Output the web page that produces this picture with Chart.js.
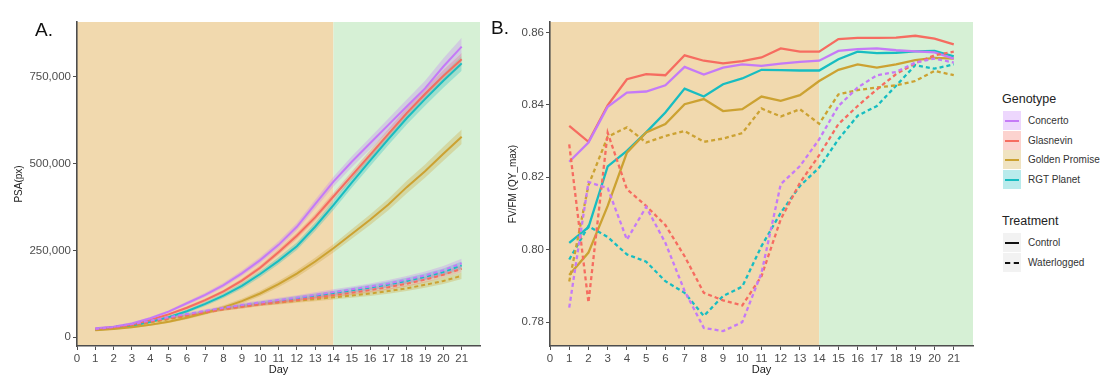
<!DOCTYPE html>
<html><head><meta charset="utf-8">
<script src="https://cdn.jsdelivr.net/npm/chart.js@4/dist/chart.umd.min.js"></script>
<style>
body{margin:0;width:1104px;height:384px;background:#fff;position:relative;overflow:hidden;font-family:"Liberation Sans",Arial,sans-serif;}
#ca{position:absolute;left:0;top:0;}
#cb{position:absolute;left:490px;top:0;}
.panel{position:absolute;font-size:19px;color:#111;line-height:1;}
.lg{position:absolute;color:#333;font-size:10px;line-height:1;white-space:nowrap;}
.lt{position:absolute;color:#222;font-size:12.5px;line-height:1;}
.key{position:absolute;width:18px;height:19px;}
.key i{position:absolute;left:2px;right:2px;top:9px;height:0;border-top:2px solid;}
</style>
</head><body>
<canvas id="ca" width="490" height="384"></canvas>
<canvas id="cb" width="500" height="384"></canvas>
<div class="panel" style="left:35px;top:20px">A.</div>
<div class="panel" style="left:491px;top:18px">B.</div>
<div id="legend"></div>
<script>
// ---------- data ----------
const days = [1,2,3,4,5,6,7,8,9,10,11,12,13,14,15,16,17,18,19,20,21];
const xTickLabels = [0,1,2,3,4,5,6,7,8,9,10,11,12,13,14,15,16,17,18,19,20,21];
const psaTicks = [0,250000,500000,750000];
const fvTicks = [0.78,0.80,0.82,0.84,0.86];
const genotypes = ["Concerto","Glasnevin","Golden Promise","RGT Planet"];
const treatments = ["Control","Waterlogged"];

// Panel A: PSA (px)
const psaConcertoCtrl = [25900,30700,40000,55000,74000,98000,122000,150000,184000,222000,266000,318000,383000,448000,505000,558000,611000,664000,716000,779000,836000];
const psaGlasnevinCtrl = [25000,29000,37000,50000,66000,85000,107000,132000,163000,200000,245000,292000,345000,405000,465000,525000,585000,645000,700000,752000,800000];
const psaGoldenCtrl = [20000,24000,29000,36000,45000,56000,70000,86000,104000,126000,153000,183000,218000,256000,297000,338000,382000,432000,478000,528000,577000];
const psaRGTCtrl = [22000,26000,33000,44000,58000,75000,96000,120000,148000,182000,220000,262000,318000,380000,445000,508000,570000,630000,685000,738000,788000];
const psaConcertoWL = [24000,30000,38000,48000,58000,67000,76000,85000,93000,100000,107000,114000,122000,130000,138000,146000,155000,166000,178000,193000,213000];
const psaGlasnevinWL = [23000,28000,36000,45000,54000,63000,72000,81000,88000,95000,101000,107000,114000,121000,128000,136000,144000,154000,166000,180000,197000];
const psaGoldenWL = [22000,27000,34000,43000,52000,61000,71000,81000,88000,95000,100000,105000,110000,115000,120000,126000,133000,141000,151000,162000,177000];
const psaRGTWL = [23000,29000,37000,47000,56000,65000,74000,83000,91000,98000,105000,112000,119000,127000,135000,143000,152000,162000,174000,188000,207000];
// ribbon half-widths (standard error)
const seConcertoCtrl = [2500,2500,3000,3500,4000,5000,6000,7000,8000,9000,10000,11000,12500,14000,15500,17000,18500,20000,22000,24000,26000];
const seGlasnevinCtrl = [2000,2000,2500,3000,3500,4000,4500,5000,6000,7000,8000,9000,10000,11000,12000,13000,14000,15000,16000,17000,18000];
const seGoldenCtrl = [2000,2000,2500,3000,3500,4000,5000,6000,7000,8000,9000,10000,11000,12000,13500,15000,16500,18000,19000,20000,21000];
const seRGTCtrl = [2000,2500,3000,3500,4000,5000,6000,7000,8000,9000,10000,11000,12500,14000,15000,16000,17000,18000,19000,20000,21000];
const seConcertoWL = [2000,2000,2500,3000,3500,4000,4500,5000,5500,6000,6500,7000,7500,8000,8500,9000,9500,10000,11000,12000,13000];
const seGlasnevinWL = [1500,1500,2000,2500,3000,3500,4000,4500,5000,5000,5500,5500,6000,6000,6500,7000,7500,8000,8500,9000,9500];
const seGoldenWL = [1500,1500,2000,2500,3000,3500,4000,4500,5000,5000,5500,5500,6000,6000,6500,7000,7500,8000,8500,9000,9500];
const seRGTWL = [1500,1500,2000,2500,3000,3500,4000,4500,5000,5500,6000,6500,7000,7000,7500,8000,8500,9000,9500,10000,11000];

// Panel B: Fv/Fm (QY_max)
const fvConcertoCtrl = [0.8243,0.8296,0.8395,0.8434,0.8437,0.8454,0.8505,0.8484,0.8503,0.8512,0.8508,0.8514,0.8519,0.8522,0.8549,0.8554,0.8556,0.8551,0.8548,0.8545,0.8528];
const fvGlasnevinCtrl = [0.8342,0.8298,0.8399,0.8471,0.8485,0.8482,0.8537,0.8522,0.8515,0.8521,0.8531,0.8556,0.8547,0.8547,0.8582,0.8585,0.8585,0.8586,0.8591,0.8583,0.8567];
const fvGoldenCtrl = [0.7930,0.7992,0.8121,0.8268,0.8324,0.8347,0.8402,0.8416,0.8383,0.8388,0.8423,0.8411,0.8427,0.8466,0.8497,0.8512,0.8503,0.8512,0.8524,0.8530,0.8528];
const fvRGTCtrl = [0.8019,0.8062,0.8230,0.8273,0.8324,0.8379,0.8445,0.8423,0.8457,0.8473,0.8497,0.8496,0.8495,0.8495,0.8526,0.8547,0.8543,0.8544,0.8548,0.8549,0.8534];
const fvConcertoWL = [0.7840,0.8187,0.8170,0.8028,0.8118,0.8019,0.7886,0.7784,0.7775,0.7800,0.7936,0.8181,0.8231,0.8305,0.8397,0.8448,0.8482,0.8491,0.8517,0.8528,0.8517];
const fvGlasnevinWL = [0.8291,0.7854,0.8323,0.8167,0.8121,0.8068,0.7982,0.7881,0.7860,0.7846,0.7927,0.8084,0.8185,0.8261,0.8347,0.8397,0.8443,0.8485,0.8515,0.8537,0.8547];
const fvGoldenWL = [0.7912,0.8178,0.8312,0.8338,0.8296,0.8314,0.8328,0.8298,0.8307,0.8322,0.8390,0.8368,0.8388,0.8348,0.8429,0.8441,0.8448,0.8454,0.8466,0.8494,0.8482];
const fvRGTWL = [0.7973,0.8065,0.8035,0.7987,0.7967,0.7913,0.7881,0.7817,0.7872,0.7898,0.8010,0.8102,0.8176,0.8227,0.8305,0.8370,0.8397,0.8453,0.8510,0.8500,0.8512];

// ---------- styles ----------
const COLORS = ["#C57AF7","#F66C60","#CCA232","#17BDC1"];
const FILLS = ["rgba(197,122,247,0.30)","rgba(246,108,96,0.30)","rgba(204,162,50,0.30)","rgba(23,189,193,0.30)"];
const ORANGE = "#F1D9AE", GREEN = "#D6F0D5";
const FONT = "'Liberation Sans', Arial, sans-serif";
const TICKC = "#4d4d4d";

const psaCtrl = [psaConcertoCtrl, psaGlasnevinCtrl, psaGoldenCtrl, psaRGTCtrl];
const psaWL = [psaConcertoWL, psaGlasnevinWL, psaGoldenWL, psaRGTWL];
const seCtrl = [seConcertoCtrl, seGlasnevinCtrl, seGoldenCtrl, seRGTCtrl];
const seWL = [seConcertoWL, seGlasnevinWL, seGoldenWL, seRGTWL];
const fvCtrl = [fvConcertoCtrl, fvGlasnevinCtrl, fvGoldenCtrl, fvRGTCtrl];
const fvWL = [fvConcertoWL, fvGlasnevinWL, fvGoldenWL, fvRGTWL];

const pts = arr => days.map((d,i)=>({x:d, y:arr[i]}));

const bgPlugin = {
  id:'bgzones',
  beforeDraw(chart){
    const {ctx, chartArea:a, scales:{x}} = chart;
    const x14 = x.getPixelForValue(14);
    ctx.save();
    ctx.fillStyle = ORANGE; ctx.fillRect(a.left, a.top, x14 - a.left, a.bottom - a.top);
    ctx.fillStyle = GREEN; ctx.fillRect(x14, a.top, a.right - x14, a.bottom - a.top);
    ctx.restore();
  }
};

function lineDs(arr, gi, dashed, w){
  return {data: pts(arr), borderColor: COLORS[gi], borderWidth: w, borderDash: dashed ? [4,3] : [],
    pointRadius: 0, fill: false, tension: 0, order: 0};
}

function makeOptions(cfg){
  return {
    responsive:false, animation:false, events:[],
    layout:{padding:{left:0, right:cfg.right, top:22, bottom:0}},
    plugins:{legend:{display:false}, tooltip:{enabled:false}},
    scales:{
      x:{type:'linear', min:0, max:22,
        afterBuildTicks: s => { s.ticks = xTickLabels.map(v=>({value:v})); },
        afterFit: s => { s.height = 38; },
        border:{display:true, color:TICKC, width:1.6},
        grid:{drawOnChartArea:false, drawTicks:true, tickLength:4, color:TICKC, tickColor:TICKC, tickWidth:1},
        ticks:{color:TICKC, font:{family:FONT, size:11.5}, padding:2, autoSkip:false, maxRotation:0},
        title:{display:true, text:'Day', color:'#222', font:{family:FONT, size:11}, padding:{top:0,bottom:7}}
      },
      y:{type:'linear', min:cfg.ymin, max:cfg.ymax,
        afterBuildTicks: s => { s.ticks = cfg.ticks.map(v=>({value:v})); },
        afterFit: s => { s.width = cfg.yw; },
        border:{display:true, color:TICKC, width:1.6},
        grid:{drawOnChartArea:false, drawTicks:true, tickLength:4, color:TICKC, tickColor:TICKC, tickWidth:1},
        ticks:{color:TICKC, font:{family:FONT, size:11.5}, padding:2, callback: cfg.fmt},
        title:{display:true, text:cfg.ytitle, color:'#222', font:{family:FONT, size:10}, padding:{top:cfg.tpad,bottom:0}}
      }
    }
  };
}

// Panel A datasets
const dsA = [];
for (let g=0; g<4; g++){
  [[psaCtrl[g], seCtrl[g]],[psaWL[g], seWL[g]]].forEach(([m,se])=>{
    dsA.push({data: pts(m.map((v,i)=>v - se[i])), borderWidth:0, pointRadius:0, fill:false, order:1});
    dsA.push({data: pts(m.map((v,i)=>v + se[i])), borderWidth:0, pointRadius:0, fill:'-1', backgroundColor: FILLS[g], order:1});
  });
}
for (let g=0; g<4; g++) dsA.push(lineDs(psaWL[g], g, true, 2));
for (let g=0; g<4; g++) dsA.push(lineDs(psaCtrl[g], g, false, 2));

new Chart(document.getElementById('ca'), {
  type:'line', data:{datasets: dsA}, plugins:[bgPlugin],
  options: makeOptions({right:10, ymin:-25000, ymax:907000, ticks:psaTicks, yw:77, tpad:13,
    ytitle:'PSA(px)', fmt: v => v.toLocaleString('en-US')})
});

// Panel B datasets
const dsB = [];
for (let g=0; g<4; g++) dsB.push(lineDs(fvWL[g], g, true, 2.3));
for (let g=0; g<4; g++) dsB.push(lineDs(fvCtrl[g], g, false, 2.3));

new Chart(document.getElementById('cb'), {
  type:'line', data:{datasets: dsB}, plugins:[bgPlugin],
  options: makeOptions({right:17, ymin:0.7734, ymax:0.8629, ticks:fvTicks, yw:60, tpad:17,
    ytitle:'FV/FM (QY_max)', fmt: v => v.toFixed(2)})
});

// ---------- legend (HTML text) ----------
const L = document.getElementById('legend');
function add(html){ L.insertAdjacentHTML('beforeend', html); }
add(`<div class="lt" style="left:1002px;top:93px">Genotype</div>`);
genotypes.forEach((name,i)=>{
  const y = 111 + i*19.7;
  add(`<div class="key" style="left:1003px;top:${y}px;background:${FILLS[i]}"><i style="border-color:${COLORS[i]}"></i></div>`);
  add(`<div class="lg" style="left:1028px;top:${y+5}px">${name}</div>`);
});
add(`<div class="lt" style="left:1002px;top:215px">Treatment</div>`);
treatments.forEach((name,i)=>{
  const y = 233 + i*19.7;
  const st = i===0 ? 'solid' : 'dashed';
  add(`<div class="key" style="left:1003px;top:${y}px;background:#F2F2F2"><i style="border-top:2px ${st} #111"></i></div>`);
  add(`<div class="lg" style="left:1028px;top:${y+5}px">${name}</div>`);
});
</script>
</body></html>
